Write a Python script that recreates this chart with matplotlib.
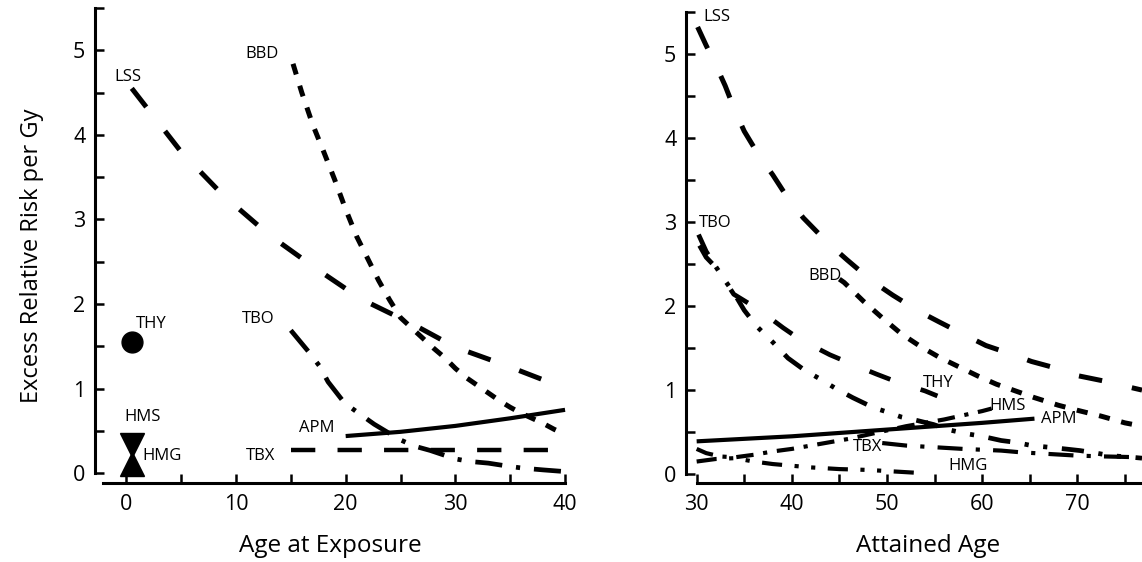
import matplotlib
matplotlib.use('Agg')
import matplotlib.pyplot as plt
from matplotlib.ticker import MultipleLocator

plt.rcParams['font.family'] = ['Open Sans', 'DejaVu Sans']
plt.rcParams['lines.scale_dashes'] = False

# %% data: left panel, ERR per Gy by age at exposure
lss_exp_x = [0.5, 5, 8.8, 13, 17.3, 21.4, 26.3, 30, 34.5, 38.5, 40]
lss_exp_y = [4.55, 3.8, 3.29, 2.82, 2.42, 2.06, 1.75, 1.49, 1.28, 1.08, 1.02]
bbd_exp_x = [15.2, 16, 17, 18, 19, 20, 21, 22, 23, 24, 25, 26, 27, 28, 29, 30, 31, 32, 33, 34, 35, 36, 37, 38, 39, 40]
bbd_exp_y = [4.84, 4.5, 4.12, 3.8, 3.47, 3.12, 2.8, 2.54, 2.28, 2.05, 1.84, 1.72, 1.6, 1.48, 1.37, 1.24,
             1.13, 1.04, 0.95, 0.86, 0.78, 0.71, 0.65, 0.59, 0.52, 0.46]
tbo_exp_x = [15, 16.6, 17.6, 18.4, 19.9, 21.3, 22.6, 24.9, 26.3, 27.7, 30, 31.3, 33, 35, 36.2, 38, 40]
tbo_exp_y = [1.69, 1.44, 1.27, 1.08, 0.83, 0.7, 0.58, 0.4, 0.32, 0.27, 0.17, 0.14, 0.12, 0.08, 0.06, 0.04, 0.02]
apm_exp_x = [20, 25, 30, 35, 40]
apm_exp_y = [0.44, 0.49, 0.56, 0.65, 0.75]
tbx_exp_x = [15, 40]
tbx_exp_y = [0.27, 0.27]
thy_exp = (0.5, 1.55)
hms_exp = (0.5, 0.33)
hmg_exp = (0.5, 0.11)

# %% data: right panel, ERR per Gy by attained age
lss_att_x = [30.1, 31, 32, 33, 34, 35, 36.6, 38, 39.6, 41.2, 43.7, 45.8, 48.4, 50.6, 53.3, 55.5, 58.1, 60.4,
             63, 65.2, 67.8, 70.1, 72.7, 74.9, 76.8]
lss_att_y = [5.32, 5.1, 4.87, 4.62, 4.33, 4.08, 3.78, 3.56, 3.28, 3.05, 2.76, 2.55, 2.3, 2.13, 1.94, 1.81, 1.66,
             1.53, 1.43, 1.34, 1.26, 1.17, 1.11, 1.05, 1.0]
bbd_att_x = [45, 45.5, 47.5, 49.5, 51.5, 53.5, 55.5, 57.5, 59.5, 61.5, 63.5, 65.5, 68, 70, 72.5, 75, 76.8]
bbd_att_y = [2.32, 2.28, 2.06, 1.86, 1.67, 1.52, 1.39, 1.28, 1.17, 1.07, 0.99, 0.91, 0.82, 0.76, 0.69, 0.61, 0.57]
thy_att_x = [30.3, 31, 32.1, 33.9, 36.5, 39.1, 40.9, 44, 46.3, 48.9, 51.2, 54, 55.3]
thy_att_y = [2.72, 2.58, 2.45, 2.14, 1.96, 1.74, 1.6, 1.42, 1.31, 1.19, 1.09, 0.99, 0.93]
tbo_att_x = [30.2, 31, 32, 33, 34, 35, 36.3, 38, 39.6, 41.3, 43, 44.6, 46.4, 48.6, 50, 51.5, 53.1, 54.9, 56.4,
             58.4, 60, 62, 63.4, 65.2, 67, 68.7, 70.3, 72, 73.5, 75.8, 76.8]
tbo_att_y = [2.85, 2.65, 2.47, 2.3, 2.14, 1.95, 1.76, 1.57, 1.38, 1.24, 1.13, 1.02, 0.91, 0.79, 0.74, 0.68, 0.64,
             0.59, 0.53, 0.48, 0.45, 0.4, 0.38, 0.34, 0.32, 0.3, 0.28, 0.25, 0.22, 0.2, 0.19]
apm_att_x = [30, 40, 50, 60, 65.5]
apm_att_y = [0.39, 0.45, 0.53, 0.61, 0.66]
hms_att_x = [30, 31, 32.5, 34, 36, 38, 40, 42, 44, 46, 48, 50, 52, 54, 56, 58, 60, 61]
hms_att_y = [0.3, 0.25, 0.21, 0.2, 0.23, 0.27, 0.3, 0.34, 0.38, 0.42, 0.47, 0.52, 0.57, 0.61, 0.65, 0.7, 0.75, 0.78]
tbx_att_x = [49.5, 52, 55, 58, 60, 62, 64, 67, 70, 73, 76.8]
tbx_att_y = [0.37, 0.34, 0.32, 0.3, 0.29, 0.28, 0.26, 0.24, 0.22, 0.21, 0.2]
hmg_att_x = [30, 32, 34, 36, 38, 40, 42, 45, 48, 51, 54]
hmg_att_y = [0.15, 0.18, 0.19, 0.15, 0.12, 0.1, 0.08, 0.06, 0.05, 0.03, 0.01]

labels_exp = {'LSS': (0.17, 4.69), 'BBD': (12.4, 4.96), 'THY': (2.26, 1.77), 'TBO': (12.0, 1.82),
              'HMS': (1.5, 0.67), 'HMG': (3.3, 0.2), 'APM': (17.4, 0.53), 'TBX': (12.2, 0.2)}
labels_att = {'LSS': (32.1, 5.44), 'TBO': (31.9, 2.99), 'BBD': (43.5, 2.36), 'THY': (55.4, 1.09),
              'HMS': (62.7, 0.81), 'APM': (68, 0.65), 'TBX': (48, 0.32), 'HMG': (58.5, 0.1)}

# dash patterns in points
LONG = (0, (17, 22))
SHORT = (0, (8, 8.5))
DASHDOT_L = (0, (19.5, 10, 3, 10))
DASHDOTDOT = (0, (16, 10.5, 3, 10.5, 3, 10.5))


def style_axes(ax, xlim, xbounds, xlabel, xlabel_pos):
    ax.set_xlim(*xlim)
    ax.set_ylim(-0.11, 5.5)
    ax.spines['top'].set_visible(False)
    ax.spines['right'].set_visible(False)
    ax.spines['left'].set_bounds(0, 5.5)
    ax.spines['bottom'].set_bounds(*xbounds)
    for s in ['left', 'bottom']:
        ax.spines[s].set_linewidth(2.2)
    ax.xaxis.set_major_locator(MultipleLocator(10))
    ax.xaxis.set_minor_locator(MultipleLocator(5))
    ax.yaxis.set_major_locator(MultipleLocator(1))
    ax.yaxis.set_minor_locator(MultipleLocator(0.5))
    ax.tick_params(which='both', direction='in', width=1.8, length=6.5, labelsize=15.5)
    ax.tick_params(axis='x', which='both', pad=8)
    ax.tick_params(axis='y', which='both', pad=7)
    ax.set_xlabel(xlabel, fontsize=17.5)
    ax.xaxis.set_label_coords(*xlabel_pos)


fig = plt.figure(figsize=(11.42, 5.62), dpi=100)
ax1 = fig.add_axes([0.0832, 0.1413, 0.4164, 0.8445])
ax2 = fig.add_axes([0.6007, 0.1399, 0.3993, 0.839])

# %% left panel
ax1.plot(lss_exp_x, lss_exp_y, color='k', lw=3.6, linestyle=LONG)
ax1.plot(bbd_exp_x, bbd_exp_y, color='k', lw=3.6, linestyle=SHORT)
ax1.plot(tbo_exp_x, tbo_exp_y, color='k', lw=3.4, linestyle=DASHDOT_L)
ax1.plot(apm_exp_x, apm_exp_y, color='k', lw=3.0, solid_capstyle='butt')
ax1.plot(tbx_exp_x, tbx_exp_y, color='k', lw=3.2, linestyle=(0, (17.5, 16)))
ax1.plot(*thy_exp, 'o', color='k', ms=15)
ax1.plot(*hms_exp, 'v', color='k', ms=17)
ax1.plot(*hmg_exp, '^', color='k', ms=17)
for name, (x, y) in labels_exp.items():
    ax1.text(x, y, name, fontsize=12, ha='center', va='center')

style_axes(ax1, (-2.85, 40.5), (-2.1, 40), 'Age at Exposure', (0.494, -0.108))
ax1.set_ylabel('Excess Relative Risk per Gy', fontsize=17)
ax1.yaxis.set_label_coords(-0.108, 0.4775)

# %% right panel
ax2.plot(lss_att_x, lss_att_y, color='k', lw=3.6, linestyle=LONG)
ax2.plot(bbd_att_x, bbd_att_y, color='k', lw=3.6, linestyle=SHORT)
ax2.plot(thy_att_x, thy_att_y, color='k', lw=3.4, linestyle=(0, (16, 23)))
ax2.plot(tbo_att_x, tbo_att_y, color='k', lw=3.4, linestyle=DASHDOTDOT)
ax2.plot(apm_att_x, apm_att_y, color='k', lw=3.0, solid_capstyle='butt')
ax2.plot(hms_att_x, hms_att_y, color='k', lw=3.0, linestyle=(0, (12.5, 7, 3, 7)))
ax2.plot(tbx_att_x, tbx_att_y, color='k', lw=3.0, linestyle=(0, (18, 9.5, 3, 9.5)))
ax2.plot(hmg_att_x, hmg_att_y, color='k', lw=3.0, linestyle=(0, (14.5, 9, 3, 9, 3, 9)))
for name, (x, y) in labels_att.items():
    ax2.text(x, y, name, fontsize=12, ha='center', va='center')

style_axes(ax2, (28.88, 76.8), (30, 76.8), 'Attained Age', (0.53, -0.108))

fig.savefig('out.png', dpi=100)
